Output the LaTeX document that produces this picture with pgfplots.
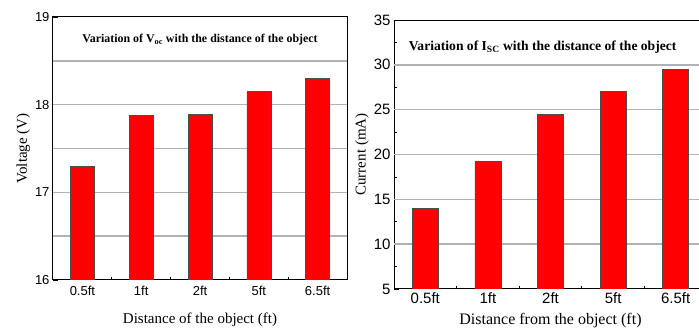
\documentclass[border=0pt]{standalone}
\usepackage{fontspec}
\setmainfont{Liberation Serif}
\newfontfamily\arial{Liberation Sans}
\usepackage{pgfplots}
\pgfplotsset{compat=1.18}
\begin{document}
\begin{tikzpicture}
\path[use as bounding box] (0,0) rectangle (699pt,-328pt);
\clip (0,0) rectangle (699pt,-328pt);
\pgfplotsset{
  common/.style={
    scale only axis,
    anchor=south west,
    ybar, bar width=#1,
    xmin=-0.5, xmax=4.5,
    xtick={0,1,2,3,4},
    xticklabels={0.5ft,1ft,2ft,5ft,6.5ft},
    minor x tick num=1,
    tick pos=left, tick align=inside,
    major tick length=5pt, minor tick length=3pt,
    axis line style={line width=1pt},
    major tick style={black, line width=0.8pt},
    minor tick style={black, line width=0.8pt},
    /pgf/number format/assume math mode=true,
    clip=true,
  }
}
\begin{axis}[common=24pt,
  at={(53pt,-280pt)}, width=294pt, height=263pt,
  ymin=16, ymax=19, ytick={16,17,18,19}, minor y tick num=1,
  ticklabel style={font=\arial\fontsize{13}{15}\selectfont},
  xticklabel style={yshift=-3pt},
  xlabel={Distance of the object (ft)},
  ylabel={Voltage (V)},
  xlabel style={font=\fontsize{15}{17}\selectfont, yshift=-10pt},
  ylabel style={font=\fontsize{15}{17}\selectfont, yshift=-2pt},
]
\addplot[black!30, line width=1.5pt, ybar=0pt, sharp plot, forget plot] coordinates {(-0.5,16.5) (4.5,16.5)};
\addplot[black!30, line width=1.5pt, sharp plot, forget plot] coordinates {(-0.5,17) (4.5,17)};
\addplot[black!30, line width=1.5pt, sharp plot, forget plot] coordinates {(-0.5,17.5) (4.5,17.5)};
\addplot[black!30, line width=1.5pt, sharp plot, forget plot] coordinates {(-0.5,18) (4.5,18)};
\addplot[black!30, line width=1.5pt, sharp plot, forget plot] coordinates {(-0.5,18.5) (4.5,18.5)};
\addplot[fill=red, draw=black!70, line width=0.6pt] coordinates {(0,17.3) (1,17.88) (2,17.89) (3,18.15) (4,18.3)};
\node[font=\bfseries\fontsize{11.9}{13}\selectfont] at (rel axis cs:0.5,0.915) {Variation of V\textsubscript{oc} with the distance of the object};
\end{axis}
\begin{axis}[common=26pt,
  at={(394pt,-289pt)}, width=313pt, height=269pt,
  ymin=5, ymax=35, ytick={5,10,...,35}, minor y tick num=1,
  ticklabel style={font=\arial\fontsize{15}{17}\selectfont},
  xlabel={Distance from the object (ft)},
  ylabel={Current (mA)},
  xlabel style={font=\fontsize{16}{18}\selectfont, yshift=-3pt},
  ylabel style={font=\fontsize{15}{17}\selectfont, yshift=-2pt},
]
\addplot[black!30, line width=1.5pt, sharp plot, forget plot] coordinates {(-0.5,10) (4.5,10)};
\addplot[black!30, line width=1.5pt, sharp plot, forget plot] coordinates {(-0.5,15) (4.5,15)};
\addplot[black!30, line width=1.5pt, sharp plot, forget plot] coordinates {(-0.5,20) (4.5,20)};
\addplot[black!30, line width=1.5pt, sharp plot, forget plot] coordinates {(-0.5,25) (4.5,25)};
\addplot[black!30, line width=1.5pt, sharp plot, forget plot] coordinates {(-0.5,30) (4.5,30)};
\addplot[fill=red, draw=black!70, line width=0.6pt] coordinates {(0,14) (1,19.2) (2,24.5) (3,27) (4,29.5)};
\node[font=\bfseries\fontsize{13.6}{15}\selectfont] at (rel axis cs:0.475,0.898) {Variation of I\textsubscript{SC} with the distance of the object};
\end{axis}
\end{tikzpicture}
\end{document}
